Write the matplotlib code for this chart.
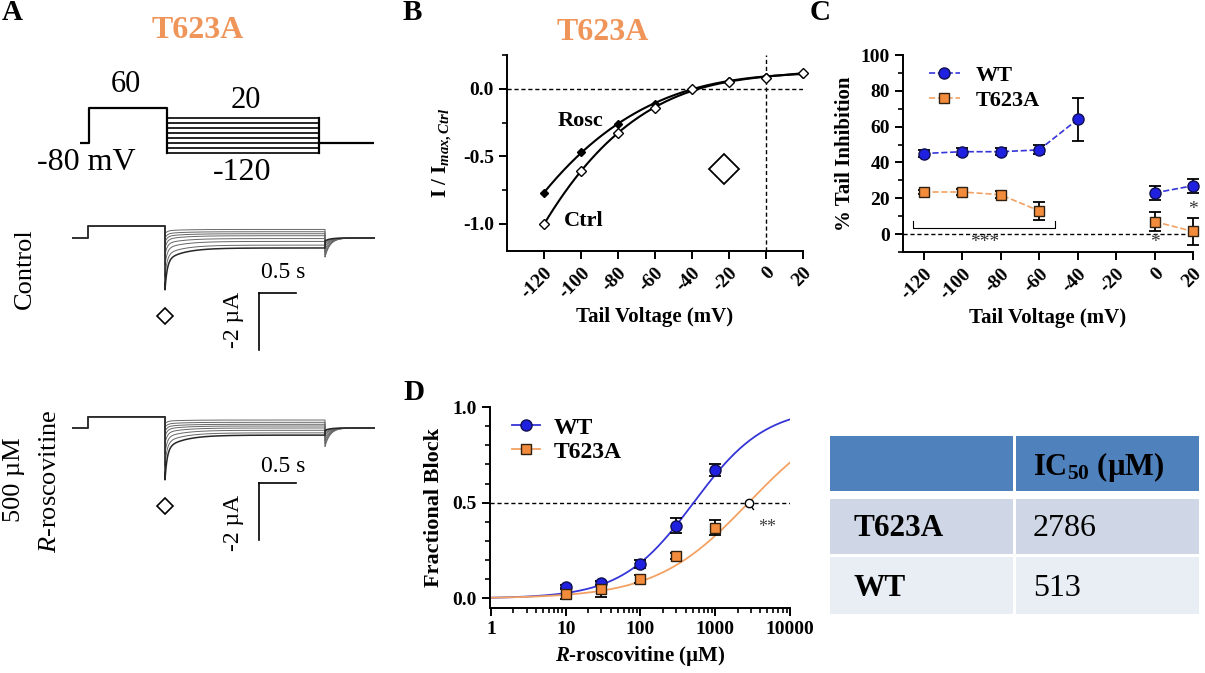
import numpy as np
import matplotlib
matplotlib.use("Agg")
import matplotlib.pyplot as plt
from matplotlib.patches import Rectangle
from matplotlib.ticker import MultipleLocator, FormatStrFormatter, FixedLocator, FixedFormatter, LogLocator, NullFormatter

plt.rcParams['font.family'] = ['Liberation Serif', 'DejaVu Serif']
plt.rcParams['font.weight'] = 'bold'
plt.rcParams['axes.labelweight'] = 'bold'
plt.rcParams['axes.unicode_minus'] = False
plt.rcParams['mathtext.fontset'] = 'custom'
plt.rcParams['mathtext.rm'] = 'Liberation Serif:bold'
plt.rcParams['mathtext.bf'] = 'Liberation Serif:bold'
plt.rcParams['mathtext.it'] = 'Liberation Serif:italic:bold'
plt.rcParams['mathtext.sf'] = 'Liberation Serif:italic:normal'

# ---- data ----
tail_mv = [-120, -100, -80, -60, -40, -20, 0, 20]

# panel A: protocol and representative currents (uA)
hold_mv = -80
pre_mv = 60
ctrl_step = 0.42
ctrl_peak = [-1.82, -1.35, -0.95, -0.6, -0.35, -0.15, 0.0, 0.15]
ctrl_ss = [-0.35, -0.25, -0.12, -0.02, 0.08, 0.15, 0.22, 0.3]
ctrl_ret = [-0.1, -0.15, -0.22, -0.3, -0.4, -0.5, -0.6, -0.67]
rosc_step = 0.39
rosc_peak = [-1.82, -1.3, -0.9, -0.55, -0.3, -0.12, 0.02, 0.15]
rosc_ss = [-0.25, -0.17, -0.08, 0.0, 0.07, 0.13, 0.2, 0.28]
rosc_ret = [-0.08, -0.12, -0.18, -0.25, -0.35, -0.45, -0.55, -0.65]

# panel B: normalised tail current
iv_ctrl = [-1.0, -0.61, -0.33, -0.14, 0.0, 0.05, 0.08, 0.12]
iv_rosc = [-0.77, -0.47, -0.26, -0.11, 0.0, 0.06, 0.09, 0.11]

# panel C: % tail inhibition
nan = np.nan
c_wt = [45, 46, 46, 47, 64, nan, 23, 27]
c_wt_err = [2, 2, 2, 2.5, 12, nan, 4, 4]
c_mut = [23.5, 23.5, 22, 13, nan, nan, 7, 1.5]
c_mut_err = [1, 1.5, 2, 5, nan, nan, 5.5, 7.5]

# panel D: concentration response
conc = [10, 30, 100, 300, 1000]
d_wt = [0.06, 0.08, 0.18, 0.38, 0.67]
d_wt_err = [0.01, 0.01, 0.02, 0.04, 0.03]
d_mut = [0.025, 0.05, 0.10, 0.22, 0.37]
d_mut_err = [0.03, 0.04, 0.02, 0.015, 0.04]
hill_wt = 0.9
hill_mut = 0.7

table_rows = ['T623A', 'WT']
table_ic50 = [2786, 513]

orange = '#F0955A'
blue = '#2020E0'
blue_line = '#3535D8'
sq_fill = '#F28C3C'
sq_line = '#F3A263'

W, H = 1205, 673
fig = plt.figure(figsize=(W / 100, H / 100), dpi=100)


def px_axes(x0, y0, x1, y1):
    return fig.add_axes([x0 / W, 1 - y1 / H, (x1 - x0) / W, (y1 - y0) / H])


def style_axes(ax):
    for s in ['top', 'right']:
        ax.spines[s].set_visible(False)
    for s in ['left', 'bottom']:
        ax.spines[s].set_linewidth(1.4)
    ax.tick_params(direction='out', length=6, width=1.4, labelsize=14)
    ax.tick_params(which='minor', direction='out', length=3.5, width=1.2)


# ---- panel A ----
ax_p = px_axes(80, 100, 374, 160)
ax_p.set_xlim(0, 294 / 74)
ax_p.set_ylim(-120 - 7 * 4, 60 + 8 * 4)
ax_p.axis('off')
t_on, t_tail, t_off, t_end = 9 / 74, 87 / 74, 239 / 74, 294 / 74
ax_p.plot([0, t_on, t_on, t_tail, t_tail], [hold_mv, hold_mv, pre_mv, pre_mv, min(tail_mv)], color='k', lw=1.6)
for v in tail_mv:
    ax_p.plot([t_tail, t_off], [v, v], color='k', lw=1.2)
ax_p.plot([t_off, t_off], [min(tail_mv), max(tail_mv)], color='k', lw=1.6)
ax_p.plot([t_off, t_end], [hold_mv, hold_mv], color='k', lw=1.6)


def draw_traces(ax, step_amp, peaks, ss, rets):
    t_step, t0, t1, t2 = 16 / 74, 93 / 74, 253 / 74, 303 / 74
    for k, (pk, s, r) in enumerate(zip(peaks, ss, rets)):
        dt1 = np.geomspace(1e-4, t1 - t0, 300)
        i_tail = s + (pk - s) * (0.7 * np.exp(-dt1 / 0.03) + 0.3 * np.exp(-dt1 / 0.25))
        dt2 = np.geomspace(1e-4, t2 - t1, 150)
        i_ret = r * np.exp(-dt2 / 0.07)
        t = np.concatenate([[0, t_step, t_step, t0, t0], t0 + dt1, [t1], t1 + dt2])
        i = np.concatenate([[0, 0, step_amp, step_amp, pk], i_tail, [r], i_ret])
        ax.plot(t, i, color='0.15' if k == 0 else '0.4', lw=1.1 if k == 0 else 0.7, zorder=3 if k == 0 else 2)
    # scale bars: 0.5 s and 2 uA
    ax.plot([187 / 74, 187 / 74 + 0.5], [-1.93, -1.93], color='k', lw=1.2, clip_on=False)
    ax.plot([187 / 74, 187 / 74], [-1.93, -3.93], color='k', lw=1.2, clip_on=False)
    ax.plot(t0, -2.74, 'D', ms=8.5, mfc='white', mec='k', mew=1.2, clip_on=False)


for base_y, step, pk, ss, rt in [(238, ctrl_step, ctrl_peak, ctrl_ss, ctrl_ret),
                                 (428, rosc_step, rosc_peak, rosc_ss, rosc_ret)]:
    ax_t = px_axes(72, base_y - 23, 375, base_y + 62)
    ax_t.set_xlim(0, 303 / 74)
    ax_t.set_ylim(-62 / 28.5, 23 / 28.5)
    ax_t.axis('off')
    draw_traces(ax_t, step, pk, ss, rt)

# ---- panel B ----
ax_b = px_axes(507, 55, 803, 251)
style_axes(ax_b)
ax_b.set_xlim(-140, 20)
ax_b.set_ylim(-1.2, 0.25)
ax_b.axhline(0, color='k', lw=1, ls=(0, (3, 2)))
ax_b.axvline(0, color='k', lw=1, ls=(0, (3, 2)))
xx = np.linspace(-120, 20, 200)
for yv in [iv_rosc, iv_ctrl]:
    p = np.polyfit(tail_mv, yv, 3)
    ax_b.plot(xx, np.polyval(p, xx), color='k', lw=1.5)
ax_b.plot(tail_mv, iv_rosc, 'D', ms=4.2, color='k', ls='none')
ax_b.plot(tail_mv, iv_ctrl, 'D', ms=5, mfc='white', mec='k', mew=1, ls='none', clip_on=False, zorder=5)
ax_b.xaxis.set_major_locator(FixedLocator(tail_mv))
ax_b.yaxis.set_major_locator(FixedLocator([-1.0, -0.5, 0.0]))
ax_b.yaxis.set_minor_locator(FixedLocator([-1.25, -0.75, -0.25, 0.25]))
ax_b.yaxis.set_major_formatter(FormatStrFormatter('%.1f'))
plt.setp(ax_b.get_xticklabels(), rotation=45, ha='right', rotation_mode='anchor')
ax_b.set_ylabel(r'I / I$_{\mathit{max,Ctrl}}$', fontsize=15, labelpad=6)
ax_b.set_xlabel('Tail Voltage (mV)', fontsize=15, labelpad=4)

# ---- panel C ----
ax_c = px_axes(903, 55, 1193, 252)
style_axes(ax_c)
ax_c.set_xlim(-130.7, 20)
ax_c.set_ylim(-10, 100)
ax_c.axhline(0, color='k', lw=1, ls=(0, (3, 2)))
ax_c.errorbar(tail_mv, c_wt, yerr=c_wt_err, fmt='none', ecolor='k', elinewidth=1.3, capsize=4, capthick=1.3, clip_on=False)
ax_c.errorbar(tail_mv, c_mut, yerr=c_mut_err, fmt='none', ecolor='k', elinewidth=1.3, capsize=4, capthick=1.3, clip_on=False)
ax_c.plot(tail_mv, c_wt, ls='--', color=blue_line, lw=1.2, marker='o', ms=8, mfc=blue, mec='#101050', mew=1, clip_on=False, label='WT', zorder=4)
ax_c.plot(tail_mv, c_mut, ls='--', color=sq_line, lw=1.2, marker='s', ms=7.5, mfc=sq_fill, mec='#302010', mew=1, clip_on=False, label='T623A', zorder=4)
ax_c.xaxis.set_major_locator(FixedLocator(tail_mv))
ax_c.yaxis.set_major_locator(MultipleLocator(20))
ax_c.yaxis.set_minor_locator(FixedLocator([-10, 10, 30, 50, 70, 90]))
plt.setp(ax_c.get_xticklabels(), rotation=45, ha='right', rotation_mode='anchor')
ax_c.set_ylabel('% Tail Inhibition', fontsize=15, labelpad=4)
ax_c.set_xlabel('Tail Voltage (mV)', fontsize=15, labelpad=4)
ax_c.legend(loc='upper left', bbox_to_anchor=(0.02, 1.05), frameon=False, fontsize=16, handlelength=1.4, handletextpad=0.7, labelspacing=0.2)
# significance marks
ax_c.plot([-125.6, -125.6, -51.5, -51.5], [7.3, 3.4, 3.4, 7.3], color='k', lw=0.8)
ax_c.text(-88, -4.5, '***', ha='center', va='center', fontsize=14, fontweight='normal', color='0.2')
ax_c.text(0, -4.5, '*', ha='center', va='center', fontsize=14, fontweight='normal', color='0.2')
ax_c.text(20, 13.5, '*', ha='center', va='center', fontsize=14, fontweight='normal', color='0.2', clip_on=False)

# ---- panel D ----
ax_d = px_axes(490, 407, 790, 608)
style_axes(ax_d)
ax_d.set_xscale('log')
ax_d.set_xlim(0.97, 10000)
ax_d.set_ylim(-0.05, 1.0)
ax_d.axhline(0.5, color='k', lw=1, ls=(0, (3, 2)))
xc = np.logspace(0, 4, 300)
ax_d.plot(xc, 1 / (1 + (table_ic50[1] / xc) ** hill_wt), color=blue_line, lw=1.3)
ax_d.plot(xc, 1 / (1 + (table_ic50[0] / xc) ** hill_mut), color=sq_line, lw=1.3)
ax_d.errorbar(conc, d_wt, yerr=d_wt_err, fmt='none', ecolor='k', elinewidth=1.3, capsize=4, capthick=1.3)
ax_d.errorbar(conc, d_mut, yerr=d_mut_err, fmt='none', ecolor='k', elinewidth=1.3, capsize=4, capthick=1.3)
ax_d.plot(conc, d_wt, 'o', ms=8, mfc=blue, mec='#101050', mew=1, zorder=4)
ax_d.plot(conc, d_mut, 's', ms=7.5, mfc=sq_fill, mec='#302010', mew=1, zorder=4)
ax_d.plot([], [], color=blue_line, lw=1.3, marker='o', ms=8, mfc=blue, mec='#101050', label='WT')
ax_d.plot([], [], color=sq_line, lw=1.3, marker='s', ms=7.5, mfc=sq_fill, mec='#302010', label='T623A')
ax_d.plot(table_ic50[0], 0.5, 'o', ms=6, mfc='white', mec='k', mew=1, zorder=5)
ax_d.annotate('**', xy=(table_ic50[0], 0.5), xytext=(4900, 0.37), ha='center', va='center',
              fontsize=13, fontweight='normal', color='0.25',
              arrowprops=dict(arrowstyle='-', lw=1, color='k', shrinkA=6, shrinkB=3))
ax_d.xaxis.set_major_locator(FixedLocator([1, 10, 100, 1000, 10000]))
ax_d.xaxis.set_major_formatter(FixedFormatter(['1', '10', '100', '1000', '10000']))
ax_d.xaxis.set_minor_locator(LogLocator(base=10, subs=np.arange(2, 10)))
ax_d.xaxis.set_minor_formatter(NullFormatter())
ax_d.yaxis.set_major_locator(MultipleLocator(0.5))
ax_d.yaxis.set_minor_locator(MultipleLocator(0.1))
ax_d.yaxis.set_major_formatter(FormatStrFormatter('%.1f'))
ax_d.set_ylabel('Fractional Block', fontsize=16, labelpad=6)
ax_d.set_xlabel(r'$\mathit{R}$-roscovitine (µM)', fontsize=15, labelpad=4)
ax_d.legend(loc='upper left', bbox_to_anchor=(0.003, 1.055), frameon=False, fontsize=17, handlelength=1.2, handletextpad=0.55, labelspacing=0.1)

# ---- overlay: labels, annotations, table ----
ov = fig.add_axes([0, 0, 1, 1])
ov.set_xlim(0, W)
ov.set_ylim(H, 0)
ov.axis('off')

for lbl, x, y in [('A', 2, 13), ('B', 403, 13), ('C', 810, 13), ('D', 403, 393)]:
    ov.text(x, y, lbl, fontsize=21, ha='left', va='center')
ov.text(198, 30, 'T623A', color=orange, fontsize=23, ha='center', va='center')
ov.text(603, 33, 'T623A', color=orange, fontsize=23, ha='center', va='center')

reg = dict(fontweight='normal', ha='center', va='center')
ov.text(126, 85, '60', fontsize=22, **reg)
ov.text(246, 100, '20', fontsize=22, **reg)
ov.text(86, 163, '-80 mV', fontsize=23, **reg)
ov.text(242, 173, '-120', fontsize=23, **reg)
ov.text(25, 269, 'Control', fontsize=19, rotation=90, **reg)
ov.text(14, 480, '500 µM', fontsize=19, rotation=90, **reg)
ov.text(50, 481, r'$\mathsf{R}$-roscovitine', fontsize=19, rotation=90, **reg)
for y0 in [272, 466]:
    ov.text(283, y0, '0.5 s', fontsize=17, **reg)
for y0 in [320, 523]:
    ov.text(233, y0, '-2 µA', fontsize=17, rotation=90, **reg)

ov.text(580, 121, 'Rosc', fontsize=16, ha='center', va='center')
ov.text(584, 221, 'Ctrl', fontsize=16, ha='center', va='center')
ov.plot(724, 169, 'D', ms=15, mfc='white', mec='k', mew=1.3)

# table
ov.add_patch(Rectangle((830, 436), 183, 55, color='#4F81BD', lw=0))
ov.add_patch(Rectangle((1016, 436), 183, 55, color='#4F81BD', lw=0))
for (y0, y1), col in zip([(499, 554), (557, 614)], ['#CFD7E7', '#E9EDF4']):
    ov.add_patch(Rectangle((830, y0), 183, y1 - y0, color=col, lw=0))
    ov.add_patch(Rectangle((1016, y0), 183, y1 - y0, color=col, lw=0))
ov.text(1033, 467, r'IC$_{50}$ (µM)', fontsize=22, ha='left', va='center')
for name, val, y0 in zip(table_rows, table_ic50, [528, 588]):
    ov.text(853, y0, name, fontsize=22.5, ha='left', va='center')
    ov.text(1033, y0, str(val), fontsize=23, fontweight='normal', ha='left', va='center')

fig.savefig('out.png', dpi=100)
